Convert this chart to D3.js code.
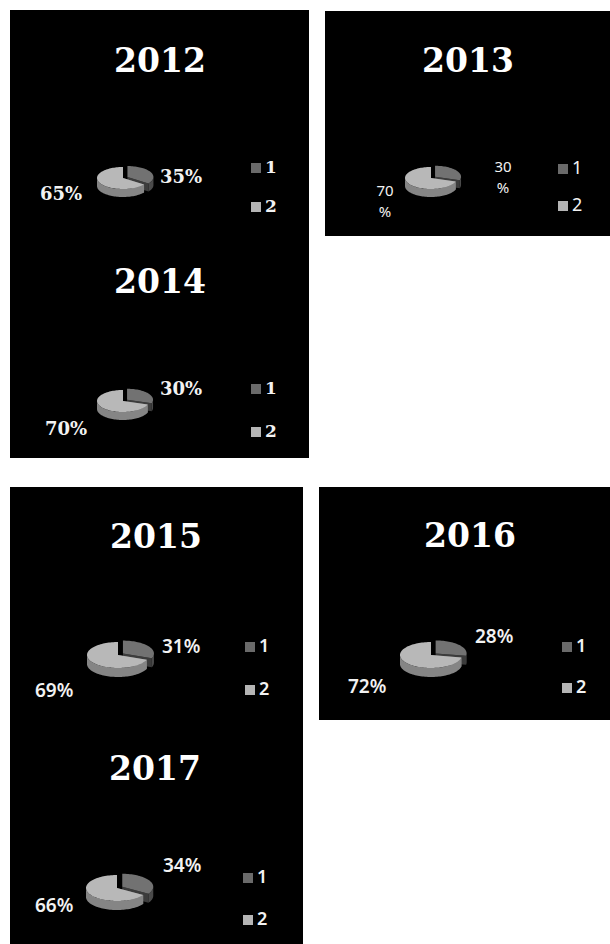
<!DOCTYPE html>
<html>
<head>
<meta charset="utf-8">
<script src="https://cdn.jsdelivr.net/npm/d3@7"></script>
<style>
  body { margin: 0; background: #fff; }
  svg { display: block; }
</style>
</head>
<body>
<svg id="chart" width="610" height="944"></svg>
<script>
// chart values
const years = ["2012", "2013", "2014", "2015", "2016", "2017"];
const seriesNames = ["1", "2"];
const share1 = [35, 30, 30, 31, 28, 34];
const share2 = [65, 70, 70, 69, 72, 66];

// black backgrounds
const panels = [
    {x: 10, y: 10, w: 299, h: 448},
    {x: 325, y: 11, w: 285, h: 225},
    {x: 10, y: 487, w: 293, h: 457},
    {x: 319, y: 487, w: 291, h: 233}
];

// layout of each small chart
const layout = [
    {tx: 160, ty: 72, cx: 123, cy: 178, rx: 26, ry: 11, depth: 8, boom: 5,
     l1: [160, 183, "start"], l2: [40, 200, "start"], lx: 251, ly: [173, 212], style: "serif"},
    {tx: 468, ty: 72, cx: 431, cy: 178, rx: 26, ry: 11, depth: 8, boom: 5,
     l1: [503, 172, "middle"], l2: [385, 196, "middle"], lx: 558, ly: [174, 211], style: "thin"},
    {tx: 160, ty: 293, cx: 123, cy: 401, rx: 26, ry: 11, depth: 8, boom: 5,
     l1: [160, 395, "start"], l2: [45, 435, "start"], lx: 251, ly: [394, 437], style: "serif"},
    {tx: 156, ty: 548, cx: 118, cy: 655, rx: 31, ry: 13, depth: 9, boom: 6,
     l1: [162, 653, "start"], l2: [35, 697, "start"], lx: 245, ly: [652, 695], style: "sans"},
    {tx: 470, ty: 547, cx: 431, cy: 655, rx: 31, ry: 13, depth: 9, boom: 6,
     l1: [475, 643, "start"], l2: [348, 693, "start"], lx: 562, ly: [652, 693], style: "sans"},
    {tx: 155, ty: 780, cx: 117, cy: 888, rx: 31, ry: 13, depth: 9, boom: 6,
     l1: [163, 872, "start"], l2: [35, 912, "start"], lx: 243, ly: [883, 925], style: "sans"}
];

const topColor = d3.scaleOrdinal().domain(seriesNames).range(["#727272", "#b8b8b8"]);
const wallColor = d3.scaleOrdinal().domain(seriesNames).range(["#4a4a4a", "#858585"]);
const faceColor = d3.scaleOrdinal().domain(seriesNames).range(["#3c3c3c", "#6a6a6a"]);
const keyColor = d3.scaleOrdinal().domain(seriesNames).range(["#6a6a6a", "#b5b5b5"]);

const fonts = {
    serif: {family: "'DejaVu Serif', serif", weight: 700, size: 18, key: 17},
    sans: {family: "'Noto Sans', sans-serif", weight: 600, size: 19, key: 18},
    thin: {family: "'Noto Sans', sans-serif", weight: 400, size: 15, key: 18}
};

const svg = d3.select("#chart");

svg.selectAll("rect.panel")
    .data(panels)
    .join("rect")
    .attr("class", "panel")
    .attr("x", d => d.x)
    .attr("y", d => d.y)
    .attr("width", d => d.w)
    .attr("height", d => d.h)
    .attr("fill", "#000");

const pie = d3.pie().sort(null).value(d => d.value);
const line = d3.line();

function ellipsePoint(L, a, ox, oy, down) {
    return [L.cx + ox + L.rx * Math.sin(a), L.cy + oy - L.ry * Math.cos(a) + (down || 0)];
}

function arcPoints(L, a0, a1, ox, oy, down) {
    const n = Math.max(2, Math.ceil((a1 - a0) / 0.05));
    return d3.range(n + 1).map(i => ellipsePoint(L, a0 + (a1 - a0) * i / n, ox, oy, down));
}

function drawPie(g, L, slices) {
    const arcs = pie(slices).map((d, i) => {
        const mid = (d.startAngle + d.endAngle) / 2;
        const e = i === 0 ? L.boom : 0;
        return {...d, ox: e * Math.sin(mid), oy: -e * Math.cos(mid) * L.ry / L.rx};
    });

    arcs.forEach(d => {
        const c = [L.cx + d.ox, L.cy + d.oy];
        [d.startAngle, d.endAngle].forEach(a => {
            const p = ellipsePoint(L, a, d.ox, d.oy);
            g.append("path")
                .attr("d", line([c, p, [p[0], p[1] + L.depth], [c[0], c[1] + L.depth]]) + "Z")
                .attr("fill", faceColor(d.data.name));
        });
    });

    arcs.forEach(d => {
        const s = Math.max(d.startAngle, Math.PI / 2);
        const e = Math.min(d.endAngle, 3 * Math.PI / 2);
        if (e > s) {
            const upper = arcPoints(L, s, e, d.ox, d.oy);
            const lower = arcPoints(L, s, e, d.ox, d.oy, L.depth).reverse();
            g.append("path")
                .attr("d", line(upper.concat(lower)) + "Z")
                .attr("fill", wallColor(d.data.name));
        }
    });

    arcs.forEach(d => {
        const c = [L.cx + d.ox, L.cy + d.oy];
        g.append("path")
            .attr("d", line([c].concat(arcPoints(L, d.startAngle, d.endAngle, d.ox, d.oy))) + "Z")
            .attr("fill", topColor(d.data.name));
    });
}

years.forEach((year, i) => {
    const L = layout[i];
    const f = fonts[L.style];
    const g = svg.append("g");

    g.append("text")
        .attr("x", L.tx)
        .attr("y", L.ty)
        .attr("text-anchor", "middle")
        .attr("fill", "#fff")
        .style("font-family", "'DejaVu Serif', serif")
        .style("font-weight", 700)
        .style("font-size", "33px")
        .text(year);

    const slices = [
        {name: seriesNames[0], value: share1[i]},
        {name: seriesNames[1], value: share2[i]}
    ];
    drawPie(g, L, slices);

    [L.l1, L.l2].forEach((pos, k) => {
        const t = g.append("text")
            .attr("x", pos[0])
            .attr("y", pos[1])
            .attr("text-anchor", pos[2])
            .attr("fill", "#f2f2f2")
            .style("font-family", f.family)
            .style("font-weight", f.weight)
            .style("font-size", f.size + "px");
        if (L.style === "thin") {
            // this one wraps the percent sign onto a second line
            t.append("tspan").attr("x", pos[0]).text(String(slices[k].value));
            t.append("tspan").attr("x", pos[0]).attr("dy", 21).text("%");
        } else {
            t.text(slices[k].value + "%");
        }
    });

    seriesNames.forEach((name, k) => {
        g.append("rect")
            .attr("x", L.lx)
            .attr("y", L.ly[k] - 10)
            .attr("width", 10)
            .attr("height", 10)
            .attr("fill", keyColor(name));
        g.append("text")
            .attr("x", L.lx + 14)
            .attr("y", L.ly[k])
            .attr("fill", "#f2f2f2")
            .style("font-family", f.family)
            .style("font-weight", f.weight)
            .style("font-size", f.key + "px")
            .text(name);
    });
});
</script>
</body>
</html>
